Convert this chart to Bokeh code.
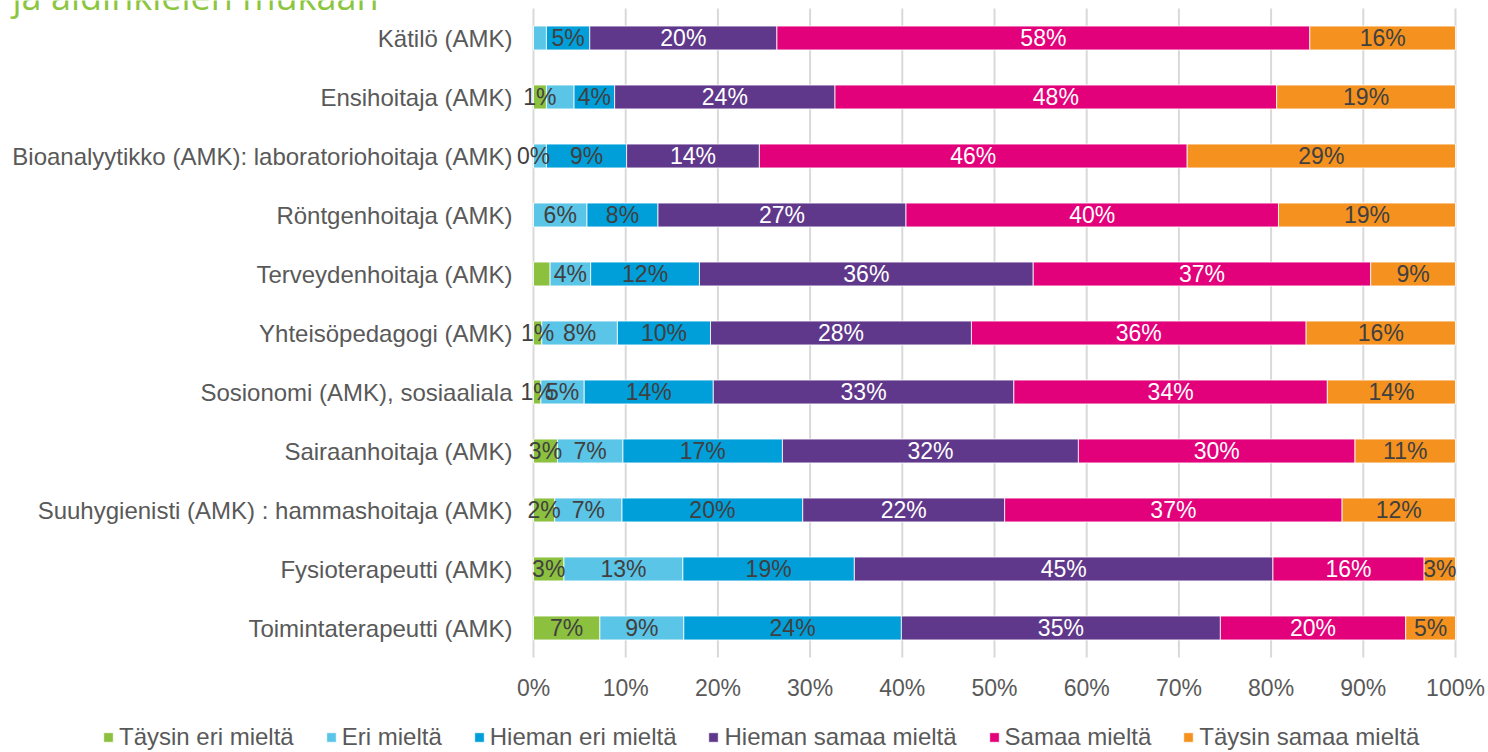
from bokeh.plotting import figure
from bokeh.models import (ColumnDataSource, Range1d, Legend, LegendItem)
from bokeh.core.properties import value
from bokeh.embed import file_html
from bokeh.resources import INLINE

# ---------------- data ----------------
categories = [
    "Kätilö (AMK)",
    "Ensihoitaja (AMK)",
    "Bioanalyytikko (AMK): laboratoriohoitaja (AMK)",
    "Röntgenhoitaja (AMK)",
    "Terveydenhoitaja (AMK)",
    "Yhteisöpedagogi (AMK)",
    "Sosionomi (AMK), sosiaaliala",
    "Sairaanhoitaja (AMK)",
    "Suuhygienisti (AMK) : hammashoitaja (AMK)",
    "Fysioterapeutti (AMK)",
    "Toimintaterapeutti (AMK)",
]
series_names = ["Täysin eri mieltä", "Eri mieltä", "Hieman eri mieltä",
                "Hieman samaa mieltä", "Samaa mieltä", "Täysin samaa mieltä"]

taysin_eri   = [0.0, 1.4, 0.0, 0.0, 1.8, 0.9, 0.8, 2.6, 2.3, 3.3, 7.2]
eri          = [1.4, 3.0, 1.4, 5.8, 4.4, 8.2, 4.7, 7.1, 7.3, 12.9, 9.1]
hieman_eri   = [4.7, 4.4, 8.7, 7.7, 11.8, 10.1, 14.0, 17.3, 19.6, 18.6, 23.6]
hieman_samaa = [20.3, 23.9, 14.4, 26.9, 36.2, 28.3, 32.6, 32.1, 21.9, 45.4, 34.6]
samaa        = [57.8, 47.9, 46.4, 40.4, 36.6, 36.3, 34.0, 30.0, 36.6, 16.4, 20.1]
taysin_samaa = [15.8, 19.4, 29.1, 19.2, 9.2, 16.2, 13.9, 10.9, 12.3, 3.4, 5.4]

# which data labels are displayed (per series, per category)
show_taysin_eri   = [0, 1, 1, 0, 0, 1, 1, 1, 1, 1, 1]
show_eri          = [0, 0, 0, 1, 1, 1, 1, 1, 1, 1, 1]
show_hieman_eri   = [1] * 11
show_hieman_samaa = [1] * 11
show_samaa        = [1] * 11
show_taysin_samaa = [1] * 11

x_ticks = [0, 10, 20, 30, 40, 50, 60, 70, 80, 90, 100]
tick_labels = ["0%", "10%", "20%", "30%", "40%", "50%", "60%", "70%", "80%", "90%", "100%"]

title_text = "ja äidinkielen mukaan"

# ---------------- styling / layout ----------------
colors = ["#8cc03f", "#5bc5e8", "#009fda", "#60388b", "#e3007b", "#f5921f"]
label_colors = ["#404040", "#404040", "#404040", "#ffffff", "#ffffff", "#404040"]
FONT = "Liberation Sans"

series_values = [taysin_eri, eri, hieman_eri, hieman_samaa, samaa, taysin_samaa]
series_show = [show_taysin_eri, show_eri, show_hieman_eri,
               show_hieman_samaa, show_samaa, show_taysin_samaa]

W, H = 1488, 752
PX0, PX100 = 533.0, 1455.0           # pixel positions of 0% and 100%
PXU = (PX100 - PX0) / 100.0          # pixels per percent
BAND_TOP, BAND_BOTTOM = 8.0, 657.0   # pixel edges of the category bands
n = len(categories)
BAND = (BAND_BOTTOM - BAND_TOP) / n  # px per category band


def px_to_y(py):
    return -0.5 + (py - BAND_TOP) / BAND


x_start = -PX0 / PXU
x_end = (W - PX0) / PXU

p = figure(width=W, height=H,
           x_range=Range1d(x_start, x_end),
           y_range=Range1d(px_to_y(H), px_to_y(0)),
           output_backend="svg", toolbar_location=None, tools="",
           min_border_left=0, min_border_right=0,
           min_border_top=0, min_border_bottom=0)
p.title.visible = False
p.outline_line_color = None
p.background_fill_color = "white"
p.border_fill_color = "white"
p.xaxis.visible = False
p.yaxis.visible = False
p.xgrid.grid_line_color = None
p.ygrid.grid_line_color = None

rows = list(range(n))

# vertical gridlines across the category bands
p.segment(x0=x_ticks, x1=x_ticks, y0=[-0.5] * len(x_ticks), y1=[n - 0.5] * len(x_ticks),
          line_color="#d9d9d9", line_width=2)

data = {"row": rows}
for name, vals in zip(series_names, series_values):
    data[name] = vals
source = ColumnDataSource(data)

renderers = p.hbar_stack(series_names, y="row", height=0.405, color=colors,
                         source=source, line_color="white", line_width=0.8)

# category labels
cat_src = ColumnDataSource(dict(x=[-21 / PXU] * n, y=rows, text=categories))
p.text(x="x", y="y", text="text", source=cat_src, text_align="right",
       text_baseline="middle", text_color="#595959",
       text_font=value(FONT), text_font_size="24px")

# data labels
lx, ly, lt, lc = [], [], [], []
for i in rows:
    left = 0.0
    for s, vals in enumerate(series_values):
        v = vals[i]
        if series_show[s][i]:
            lx.append(left + v / 2.0)
            ly.append(i)
            lt.append(f"{round(v)}%")
            lc.append(label_colors[s])
        left += v
lsrc = ColumnDataSource(dict(x=lx, y=ly, text=lt, color=lc))
p.text(x="x", y="y", text="text", source=lsrc, text_align="center",
       text_baseline="middle", text_color="color",
       text_font=value(FONT), text_font_size="23px")

# x tick labels
tick_src = ColumnDataSource(dict(x=x_ticks, y=[px_to_y(687)] * len(x_ticks), text=tick_labels))
p.text(x="x", y="y", text="text", source=tick_src, text_align="center",
       text_baseline="middle", text_color="#595959",
       text_font=value(FONT), text_font_size="23px")

# cropped title at the very top (only its lower part is inside the picture)
title_src = ColumnDataSource(dict(x=[(12 - PX0) / PXU], y=[px_to_y(-4)], text=[title_text]))
p.text(x="x", y="y", text="text", source=title_src, text_align="left",
       text_baseline="alphabetic", text_color="#8cc63f",
       text_font=value("Open Sans"), text_font_size="36px")

# legend at the bottom
legend = Legend(items=[LegendItem(label=nm, renderers=[r]) for nm, r in zip(series_names, renderers)],
                orientation="horizontal",
                location=(102, 1),
                glyph_width=12, glyph_height=12, label_standoff=5, spacing=31,
                padding=0, margin=0, border_line_color=None,
                background_fill_alpha=0,
                label_text_font=FONT, label_text_font_size="24px",
                label_text_color="#595959", label_height=26)
p.add_layout(legend)

open("out.html", "w").write(file_html(p, INLINE))
